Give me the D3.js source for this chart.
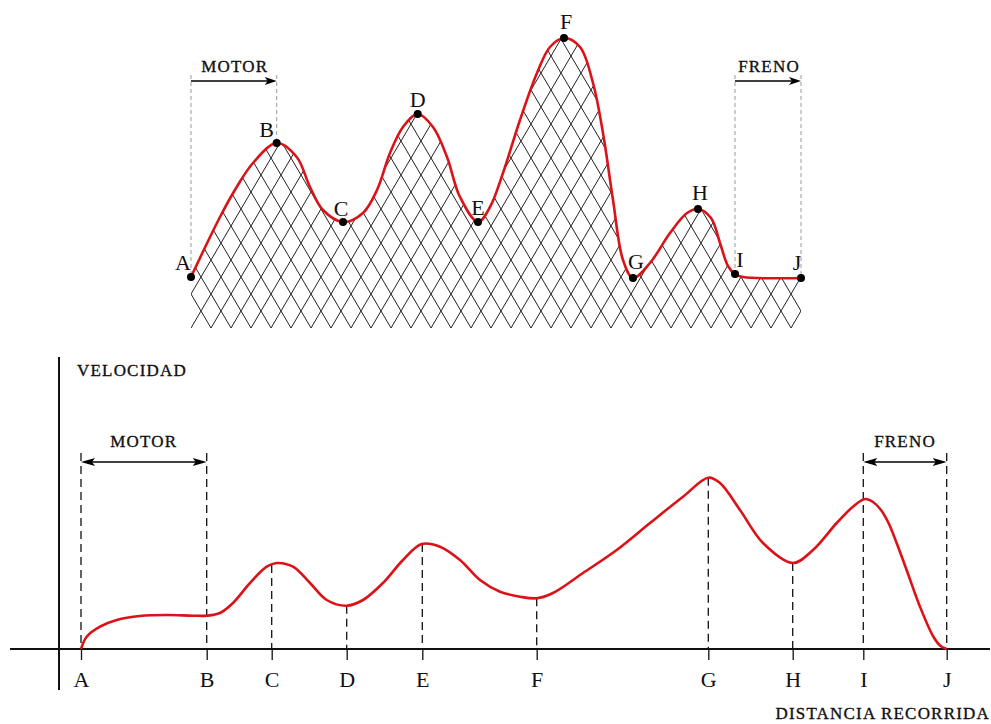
<!DOCTYPE html>
<html>
<head>
<meta charset="utf-8">
<script src="https://cdn.jsdelivr.net/npm/d3@7/dist/d3.min.js"></script>
<style>
  html, body { margin: 0; padding: 0; background: #ffffff; }
  svg { display: block; }
  text { font-family: "Liberation Serif", "DejaVu Serif", serif; fill: #111; }
  .caps { stroke: #111; stroke-width: 0.35px; }
</style>
</head>
<body>
<script>
// ---------------- DATA ----------------
// Upper drawing: road profile (distance, height)
const pointNames = ["A", "B", "C", "D", "E", "F", "G", "H", "I", "J"];
const topDist   = [0, 85.7, 152, 226.7, 287, 373, 442, 507, 544, 610];
const topHeight = [51, 185, 106, 214, 106, 290, 50, 119, 54, 50];

const profileDist   = [0, 29, 45.7, 62, 85.7, 105.7, 119, 132, 152, 172, 186, 199, 212, 226.7,
                       242, 256, 269, 287, 299, 312, 329, 346, 359, 373, 389, 402, 412, 422,
                       432, 442, 459, 479, 496, 507, 520, 529, 537, 544, 552, 610];
const profileHeight = [51, 111, 141, 165, 185, 171, 141, 118, 106, 115, 138, 175, 201, 214,
                       201, 171, 131, 106, 121, 155, 208, 255, 281, 290, 281, 245, 195, 128,
                       68, 50, 65, 95, 115, 119, 110, 85, 62, 54, 51, 50];

// Lower chart: velocity vs distance travelled
const tickDist  = [0, 125.7, 190.7, 265.7, 341.3, 455.7, 627.3, 711.7, 782.3, 865.7];
const tickSpeed = [0, 33.3, 84, 43.3, 105, 50.7, 171.3, 86, 149, 0];

const speedDist  = [0, 5.7, 19, 35.7, 59, 85.7, 112, 125.7, 139, 152, 169, 185.7, 195.7, 212,
                    229, 245.7, 265.7, 282, 302, 322, 340.7, 359, 379, 399, 419, 439, 455.7,
                    472, 502, 535.7, 569, 602, 627.3, 639, 659, 682, 712, 732, 755.7, 772,
                    784, 792, 800, 808, 816, 826, 839, 852, 859, 865.7];
const speedValue = [0, 12.3, 22.3, 29, 33, 34, 33.3, 33.3, 36, 46, 66, 82.3, 86, 82.3,
                    66, 49, 43.3, 49, 66, 89, 105, 102.3, 89, 69, 57.3, 52.3, 50.7,
                    56, 76, 99, 126, 152.3, 171.3, 166, 139, 106, 86, 99, 126, 142.3,
                    150, 147, 139, 125, 105, 78, 42.3, 13, 3.5, 0];

const motorRange = ["A", "B"];
const frenoRange = ["I", "J"];
const labelMotor = "MOTOR";
const labelFreno = "FRENO";
const labelY = "VELOCIDAD";
const labelX = "DISTANCIA RECORRIDA";

// ---------------- LAYOUT ----------------
const W = 991, H = 724;
const RED = "#db1218";
const svg = d3.select("body").append("svg").attr("width", W).attr("height", H);

// ===== Upper drawing =====
const xTop = d3.scaleLinear().domain([0, 610]).range([191, 801]);
const yTop = d3.scaleLinear().domain([0, 300]).range([328, 28]);
const topCurve = d3.curveCatmullRom.alpha(0.5);
const profile = profileDist.map((d, i) => [d, profileHeight[i]]);

const defs = svg.append("defs");
defs.append("clipPath").attr("id", "profileClip")
  .append("path")
  .attr("d", d3.area().x(d => xTop(d[0])).y0(yTop(0)).y1(d => yTop(d[1])).curve(topCurve)(profile));

// cross-hatching (diamond lattice)
const hatchW = 20, hatchH = 34;
const hatch = svg.append("g").attr("clip-path", "url(#profileClip)")
  .attr("stroke", "#222").attr("stroke-width", 1).attr("fill", "none");
const x0 = xTop(0), yb = yTop(0), span = 340;
const ks = d3.range(-20, 50);
hatch.selectAll("line.r").data(ks).join("line").attr("class", "r")
  .attr("x1", k => x0 + k * hatchW).attr("y1", yb)
  .attr("x2", k => x0 + k * hatchW + span * hatchW / hatchH).attr("y2", yb - span);
hatch.selectAll("line.l").data(ks).join("line").attr("class", "l")
  .attr("x1", k => x0 + k * hatchW).attr("y1", yb)
  .attr("x2", k => x0 + k * hatchW - span * hatchW / hatchH).attr("y2", yb - span);

// gray dashed guide lines for MOTOR / FRENO (upper)
const topIdx = n => pointNames.indexOf(n);
const guideTopY = 75, arrowTopY = 81;
const topGuides = [...motorRange, ...frenoRange];
svg.append("g").selectAll("line").data(topGuides).join("line")
  .attr("x1", n => xTop(topDist[topIdx(n)])).attr("x2", n => xTop(topDist[topIdx(n)]))
  .attr("y1", guideTopY).attr("y2", n => yTop(topHeight[topIdx(n)]))
  .attr("stroke", "#9a9a9a").attr("stroke-width", 1).attr("stroke-dasharray", "4,3");

// profile line
svg.append("path")
  .attr("d", d3.line().x(d => xTop(d[0])).y(d => yTop(d[1])).curve(topCurve)(profile))
  .attr("fill", "none").attr("stroke", RED).attr("stroke-width", 2.6);

// points
svg.append("g").selectAll("circle").data(pointNames).join("circle")
  .attr("cx", (n, i) => xTop(topDist[i])).attr("cy", (n, i) => yTop(topHeight[i]))
  .attr("r", 4).attr("fill", "#000");

// point labels (offsets are layout)
const topLabelOffset = [[-8, -7], [-10, -6], [-2, -6], [0, -7], [0, -7], [2, -9], [3, -9], [2, -9], [5, -7], [-4, -8]];
svg.append("g").selectAll("text").data(pointNames).join("text")
  .attr("x", (n, i) => xTop(topDist[i]) + topLabelOffset[i][0])
  .attr("y", (n, i) => yTop(topHeight[i]) + topLabelOffset[i][1])
  .attr("text-anchor", "middle").attr("font-size", 22).text(n => n);

function arrowHead(g, tx, ty, dir, L, h) {
  g.append("path")
    .attr("d", `M${tx},${ty} L${tx - dir * L},${ty - h} L${tx - dir * (L - 3)},${ty} L${tx - dir * L},${ty + h} Z`)
    .attr("fill", "#000");
}

function topArrow(range, label) {
  const xa = xTop(topDist[topIdx(range[0])]), xb = xTop(topDist[topIdx(range[1])]);
  const g = svg.append("g");
  g.append("line").attr("x1", xa).attr("x2", xb - 4).attr("y1", arrowTopY).attr("y2", arrowTopY)
    .attr("stroke", "#000").attr("stroke-width", 1.3);
  arrowHead(g, xb, arrowTopY, 1, 12, 4);
  g.append("text").attr("class", "caps").attr("x", (xa + xb) / 2 + 1).attr("y", 72).attr("text-anchor", "middle")
    .attr("font-size", 17).attr("letter-spacing", 1.2).text(label);
}
topArrow(motorRange, labelMotor);
topArrow(frenoRange, labelFreno);

// ===== Lower chart =====
const xBot = d3.scaleLinear().domain([0, 865.7]).range([81, 946.7]);
const yBot = d3.scaleLinear().domain([0, 200]).range([649, 449]);
const botIdx = n => pointNames.indexOf(n);
const bracketSpeed = 196, arrowSpeed = 187;

// dashed verticals
const bracketNames = [...motorRange, ...frenoRange];
svg.append("g").selectAll("line").data(pointNames).join("line")
  .attr("x1", (n, i) => xBot(tickDist[i])).attr("x2", (n, i) => xBot(tickDist[i]))
  .attr("y1", (n, i) => bracketNames.includes(n) ? yBot(bracketSpeed) : yBot(tickSpeed[i]))
  .attr("y2", yBot(0))
  .attr("stroke", "#111").attr("stroke-width", 1.3).attr("stroke-dasharray", "8,5");

// axes
svg.append("line").attr("x1", 10).attr("x2", 990).attr("y1", yBot(0)).attr("y2", yBot(0))
  .attr("stroke", "#111").attr("stroke-width", 2);
svg.append("line").attr("x1", 59).attr("x2", 59).attr("y1", 357).attr("y2", 690)
  .attr("stroke", "#111").attr("stroke-width", 2);

const xAxis = d3.axisBottom(xBot).tickValues(tickDist)
  .tickFormat((d, i) => pointNames[i]).tickSize(11).tickSizeOuter(0);
const gx = svg.append("g").attr("transform", `translate(0,${yBot(0)})`).call(xAxis);
gx.select(".domain").remove();
gx.selectAll(".tick line").attr("stroke", "#111").attr("stroke-width", 1.3);
gx.selectAll(".tick text").attr("y", 38).attr("dy", 0)
  .attr("font-family", "Liberation Serif, serif").attr("font-size", 22).attr("fill", "#111");

// velocity curve
const speed = speedDist.map((d, i) => [d, speedValue[i]]);
svg.append("path")
  .attr("d", d3.line().x(d => xBot(d[0])).y(d => yBot(d[1])).curve(d3.curveCatmullRom.alpha(0.5))(speed))
  .attr("fill", "none").attr("stroke", RED).attr("stroke-width", 2.6);

function botArrow(range, label) {
  const xa = xBot(tickDist[botIdx(range[0])]), xb = xBot(tickDist[botIdx(range[1])]);
  const ya = yBot(arrowSpeed);
  const g = svg.append("g");
  g.append("line").attr("x1", xa + 4).attr("x2", xb - 4).attr("y1", ya).attr("y2", ya)
    .attr("stroke", "#000").attr("stroke-width", 1.3);
  arrowHead(g, xa, ya, -1, 14, 4);
  arrowHead(g, xb, ya, 1, 14, 4);
  g.append("text").attr("class", "caps").attr("x", (xa + xb) / 2).attr("y", 447).attr("text-anchor", "middle")
    .attr("font-size", 17).attr("letter-spacing", 1.2).text(label);
}
botArrow(motorRange, labelMotor);
botArrow(frenoRange, labelFreno);

svg.append("text").attr("class", "caps").attr("x", 77).attr("y", 376).attr("font-size", 17)
  .attr("letter-spacing", 1.2).text(labelY);
svg.append("text").attr("class", "caps").attr("x", 990).attr("y", 719).attr("text-anchor", "end").attr("font-size", 17)
  .attr("letter-spacing", 1.2).text(labelX);
</script>
</body>
</html>
